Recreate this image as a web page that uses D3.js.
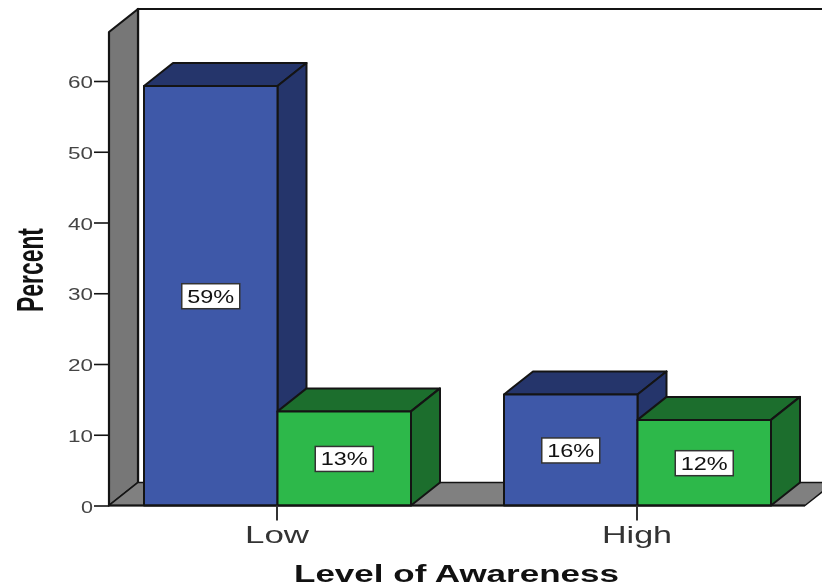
<!DOCTYPE html>
<html><head><meta charset="utf-8">
<script src="https://cdn.jsdelivr.net/npm/d3@7/dist/d3.min.js"></script>
<style>html,body{margin:0;padding:0;background:#fff}svg{display:block;filter:blur(0.6px)}text{font-family:"Liberation Sans",Arial,sans-serif;fill:#111}</style>
</head><body><svg id="c" width="822" height="588"></svg>
<script>
const categories = ["Low", "High"];
const seriesNames = ["A", "B"];
const seriesA = [59.3, 15.7];
const seriesB = [13.3, 12.1];
const labelsA = ["59%", "16%"];
const labelsB = ["13%", "12%"];
const yTicks = [0, 10, 20, 30, 40, 50, 60];
const xTitle = "Level of Awareness";
const yTitle = "Percent";
const colors = {A:{front:"#3e58a8",dark:"#25356b"},B:{front:"#2db84a",dark:"#1c6e2d"}};

const svg = d3.select("#c");
const dx = 29, dy = -23;
const y = d3.scaleLinear().domain([0,60]).range([505.5,81]);
const x = d3.scaleBand().domain(categories).range([97,817]);
const sub = d3.scaleBand().domain(seriesNames).range([47,314]);
const ink = "#141414";
const x0 = 109, xEnd = 805, yTop = 32;
const poly = (pts,fill,sw=2)=>svg.append("polygon").attr("points",pts.map(p=>p.join(",")).join(" "))
  .attr("fill",fill).attr("stroke",ink).attr("stroke-width",sw).attr("stroke-linejoin","round");

svg.append("path").attr("d",`M${x0+dx},${y(0)+dy}V${yTop+dy}H830`).attr("fill","none").attr("stroke",ink).attr("stroke-width",2.2);
poly([[x0,y(0)],[x0,yTop],[x0+dx,yTop+dy],[x0+dx,y(0)+dy]],"#777777",2.2);
poly([[x0,y(0)],[x0+dx,y(0)+dy],[xEnd+dx,y(0)+dy],[xEnd,y(0)]],"#808080",1.4);

const yAxis = d3.axisLeft(y).tickValues(yTicks).tickSize(15);
const gy = svg.append("g").attr("transform",`translate(${x0},0)`).call(yAxis);
gy.select(".domain").remove();
gy.selectAll(".tick line").attr("stroke",ink).attr("stroke-width",1.6);
gy.selectAll(".tick text").attr("font-size",16).attr("textLength",d=>d===0?12:25).attr("lengthAdjust","spacingAndGlyphs")
  .attr("x",-16).attr("y",1.5).attr("text-anchor","end").style("fill","#444");

function bar(cat,name,val){
  const left = x(cat)+sub(name), w = sub.bandwidth(), t = y(val), b = y(0), c = colors[name];
  poly([[left,t],[left+dx,t+dy],[left+w+dx,t+dy],[left+w,t]],c.dark);
  poly([[left+w,t],[left+w+dx,t+dy],[left+w+dx,b+dy],[left+w,b]],c.dark);
  poly([[left,t],[left+w,t],[left+w,b],[left,b]],c.front);
}
const marks=[];
categories.forEach((cat,i)=>{marks.push([cat,"A",seriesA[i],labelsA[i]]);marks.push([cat,"B",seriesB[i],labelsB[i]]);});
marks.forEach(m=>bar(m[0],m[1],m[2]));
marks.forEach(([cat,name,val,label])=>{
  const cx = x(cat)+sub(name)+sub.bandwidth()/2, cy=(y(val)+y(0))/2;
  svg.append("rect").attr("x",cx-29).attr("y",cy-12).attr("width",58).attr("height",25)
    .attr("fill","#fff").attr("stroke","#333").attr("stroke-width",1.5);
  svg.append("text").attr("x",cx).attr("y",cy+7).attr("text-anchor","middle").attr("font-size",18)
    .attr("textLength",47).attr("lengthAdjust","spacingAndGlyphs").text(label);
});

svg.append("line").attr("x1",x0).attr("x2",xEnd).attr("y1",y(0)).attr("y2",y(0)).attr("stroke",ink).attr("stroke-width",2);
const xAxis = d3.axisBottom(x).tickSize(15).tickPadding(3);
const gx = svg.append("g").attr("transform",`translate(0,${y(0)})`).call(xAxis);
gx.select(".domain").remove();
gx.selectAll(".tick line").attr("stroke","#333").attr("stroke-width",2);
gx.selectAll(".tick text").attr("font-size",24).attr("y",37.5).attr("dy",0).style("fill","#333")
  .attr("lengthAdjust","spacingAndGlyphs").attr("textLength",d=>d==="Low"?64:70);

svg.append("text").attr("x",456.5).attr("y",582).attr("text-anchor","middle").attr("font-size",24).attr("font-weight","bold")
  .attr("textLength",325).attr("lengthAdjust","spacingAndGlyphs").text(xTitle);
svg.append("text").attr("transform","translate(42.5,270) rotate(-90)").attr("text-anchor","middle").attr("font-size",36).attr("font-weight","bold")
  .attr("textLength",84).attr("lengthAdjust","spacingAndGlyphs").text(yTitle);
</script></body></html>
